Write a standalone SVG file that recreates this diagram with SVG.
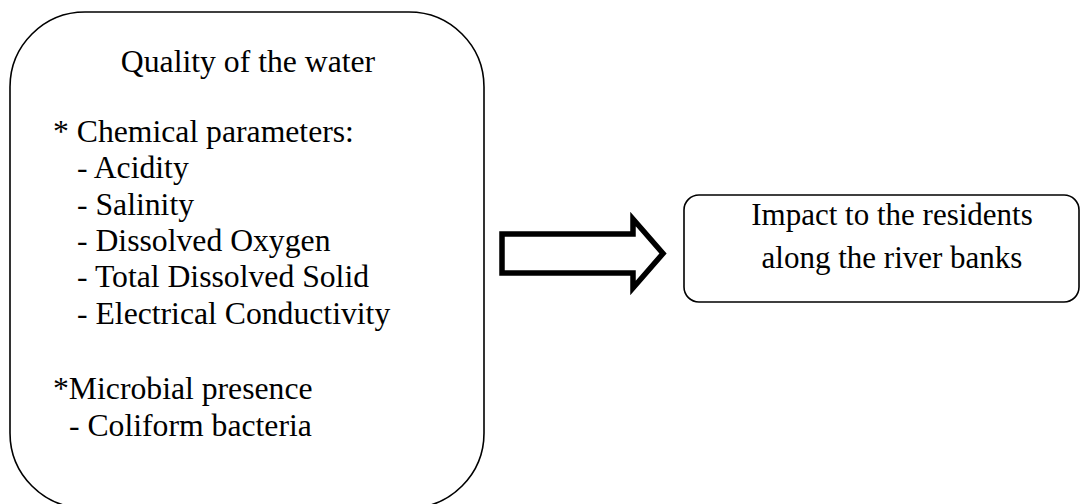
<svg xmlns="http://www.w3.org/2000/svg" width="1081" height="504" viewBox="0 0 1081 504">
<style>
.box{fill:#fff;stroke:#000;stroke-width:1.6}
.t{font-family:"Liberation Serif","Times New Roman",serif;font-size:31px;fill:#000}
.l{font-size:31.7px}
.arrow{fill:#fff;stroke:#000;stroke-width:5.5;stroke-linejoin:miter}
</style>
<rect width="1081" height="504" fill="#fff"/>
<g id="quality">
<rect class="box" x="10" y="12" width="474" height="496" rx="75" ry="75"/>
<text class="t l" x="248" y="72" text-anchor="middle">Quality of the water</text>
<text class="t l" x="53" y="142">* Chemical parameters:</text>
<text class="t l" x="77" y="178">- Acidity</text>
<text class="t l" x="77" y="215">- Salinity</text>
<text class="t l" x="77" y="251">- Dissolved Oxygen</text>
<text class="t l" x="77" y="287">- Total Dissolved Solid</text>
<text class="t l" x="77" y="324">- Electrical Conductivity</text>
<text class="t l" x="53" y="399">*Microbial presence</text>
<text class="t l" x="69" y="436">- Coliform bacteria</text>
</g>
<g id="connectors">
<polygon class="arrow" points="502,234 633,234 633,219 663,253.5 633,288 633,273 502,273"/>
</g>
<g id="impact">
<rect class="box" x="684" y="195" width="395" height="107" rx="15" ry="15"/>
<text class="t" x="892" y="225" text-anchor="middle">Impact to the residents</text>
<text class="t" x="892" y="268" text-anchor="middle">along the river banks</text>
</g>
</svg>
